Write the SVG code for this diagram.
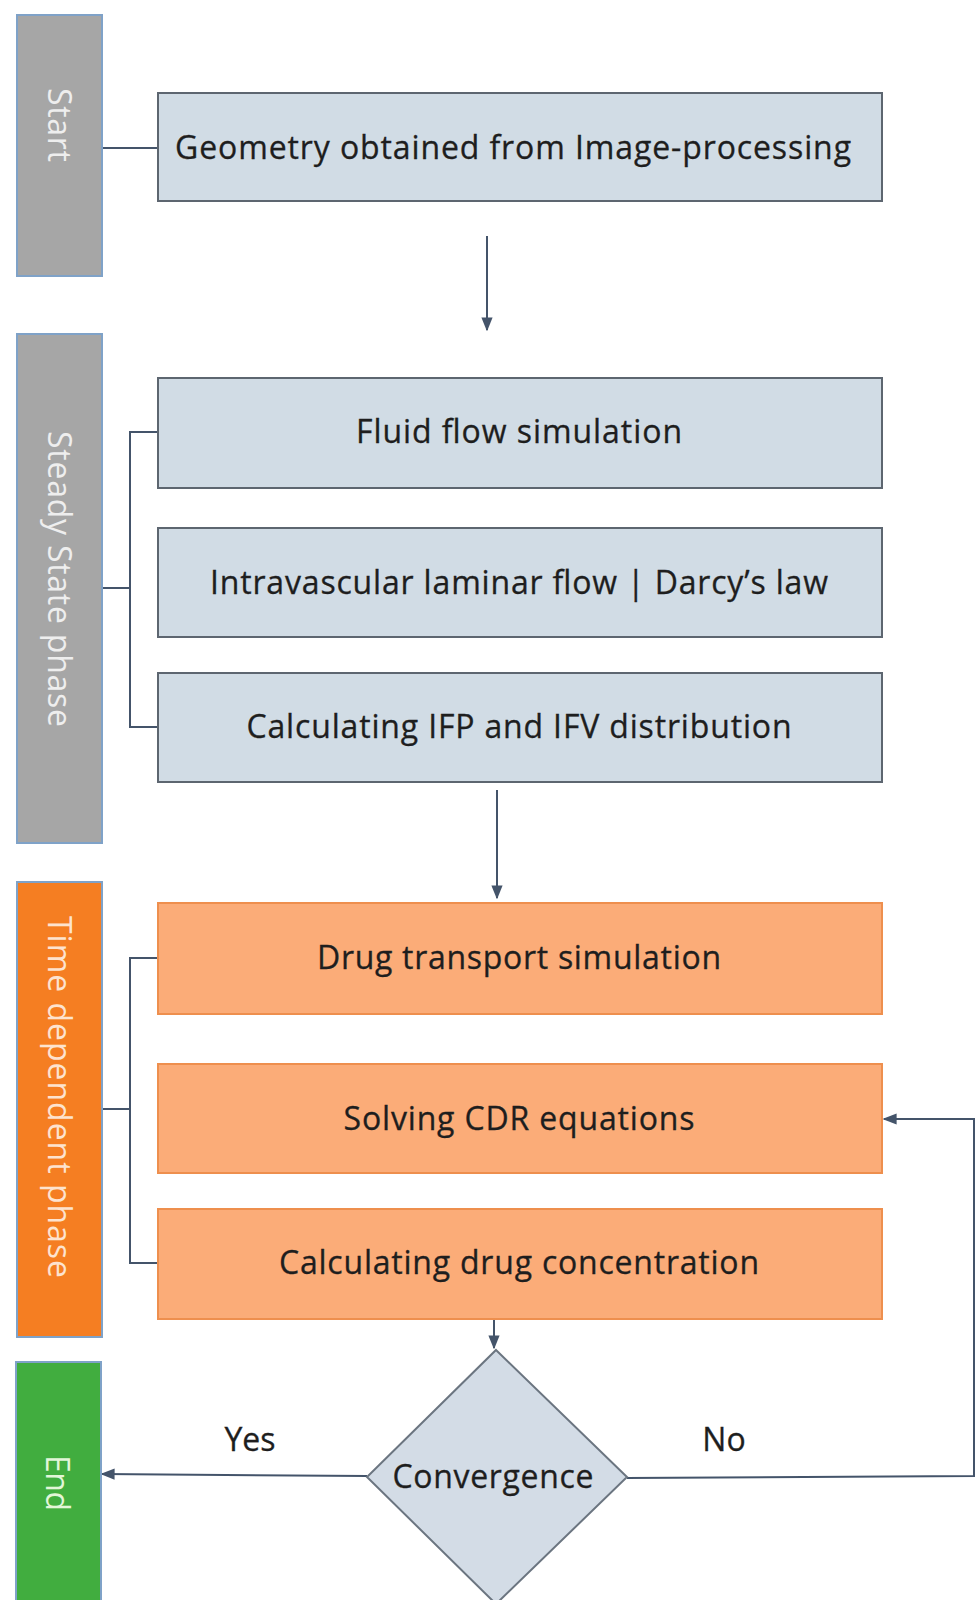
<svg xmlns="http://www.w3.org/2000/svg" width="976" height="1600" viewBox="0 0 976 1600">
<style>
.bar{stroke:#7FA2C8;stroke-width:2}
.gray{fill:#A6A6A6}
.orange{fill:#F57E22}
.green{fill:#41AD3F}
.blue{fill:#D1DCE5;stroke:#5D6670;stroke-width:2}
.peach{fill:#FBAC78;stroke:#EE8F4E;stroke-width:2}
.dia{fill:#D3DCE6;stroke:#6B7580;stroke-width:2}
.t{font-family:"Open Sans","Liberation Sans",sans-serif;font-size:32px;fill:#1E1E1E;text-anchor:middle;stroke:#1E1E1E;stroke-width:0.3}
.v{font-family:"Open Sans","Liberation Sans",sans-serif;font-size:32px;text-anchor:middle}
.c{fill:none;stroke:#44546A;stroke-width:2}
</style>
<defs>
<marker id="ah" viewBox="0 0 10 10" refX="9" refY="5" markerWidth="7" markerHeight="7" orient="auto" markerUnits="strokeWidth">
<path d="M0,1 L10,5 L0,9 z" fill="#44546A"/>
</marker>
</defs>
<rect width="976" height="1600" fill="#FFFFFF"/>

<g id="connectors">
<line class="c" x1="102" y1="148" x2="158" y2="148"/>
<line class="c" x1="487" y1="236" x2="487" y2="330" marker-end="url(#ah)"/>
<polyline class="c" points="158,432 130,432 130,727 158,727"/>
<line class="c" x1="102" y1="588" x2="130" y2="588"/>
<line class="c" x1="497" y1="790" x2="497" y2="898" marker-end="url(#ah)"/>
<polyline class="c" points="158,958 130,958 130,1263 158,1263"/>
<line class="c" x1="102" y1="1109" x2="130" y2="1109"/>
<line class="c" x1="494" y1="1320" x2="494" y2="1348" marker-end="url(#ah)"/>
<line class="c" x1="367" y1="1476" x2="102" y2="1474" marker-end="url(#ah)"/>
<polyline class="c" points="627,1478 974,1476 974,1119 884,1119" marker-end="url(#ah)"/>
<text class="t" x="250" y="1451">Yes</text>
<text class="t" x="724" y="1451">No</text>
</g>

<g id="start">
<rect class="bar gray" x="17" y="15" width="85" height="261"/>
<text class="v" fill="#EEEEEE" transform="translate(60,125) rotate(90)" dy="0.36em" textLength="74">Start</text>
</g>
<g id="steady">
<rect class="bar gray" x="17" y="334" width="85" height="509"/>
<text class="v" fill="#EEEEEE" transform="translate(60,579) rotate(90)" dy="0.36em" textLength="296">Steady State phase</text>
</g>
<g id="time">
<rect class="bar orange" x="17" y="882" width="85" height="455"/>
<text class="v" fill="#FDE3CF" transform="translate(60,1097) rotate(90)" dy="0.36em" textLength="362">Time dependent phase</text>
</g>
<g id="end">
<rect class="bar green" x="16" y="1362" width="85" height="240"/>
<text class="v" fill="#E2F6D8" transform="translate(58,1483) rotate(90)" dy="0.36em" textLength="56">End</text>
</g>

<g id="geometry">
<rect class="blue" x="158" y="93" width="724" height="108"/>
<text class="t" x="513" y="159" textLength="676">Geometry obtained from Image-processing</text>
</g>
<g id="fluid">
<rect class="blue" x="158" y="378" width="724" height="110"/>
<text class="t" x="519" y="443" textLength="326">Fluid flow simulation</text>
</g>
<g id="intravascular">
<rect class="blue" x="158" y="528" width="724" height="109"/>
<text class="t" x="519" y="594" textLength="618">Intravascular laminar flow | Darcy’s law</text>
</g>
<g id="ifp">
<rect class="blue" x="158" y="673" width="724" height="109"/>
<text class="t" x="519" y="738" textLength="545">Calculating IFP and IFV distribution</text>
</g>
<g id="drug">
<rect class="peach" x="158" y="903" width="724" height="111"/>
<text class="t" x="519" y="969" textLength="404">Drug transport simulation</text>
</g>
<g id="cdr">
<rect class="peach" x="158" y="1064" width="724" height="109"/>
<text class="t" x="519" y="1130" textLength="351">Solving CDR equations</text>
</g>
<g id="concentration">
<rect class="peach" x="158" y="1209" width="724" height="110"/>
<text class="t" x="519" y="1274" textLength="480">Calculating drug concentration</text>
</g>
<g id="convergence">
<polygon class="dia" points="496,1350 627,1477 496,1604 367,1477"/>
<text class="t" x="493" y="1488" textLength="201">Convergence</text>
</g>
</svg>
